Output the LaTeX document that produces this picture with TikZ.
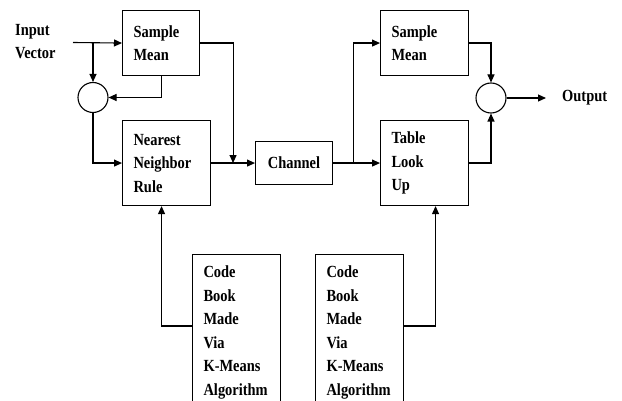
\documentclass[tikz,border=0pt]{standalone}
\usepackage{fontspec}
\setmainfont{Liberation Serif}[FakeStretch=0.85]
\usetikzlibrary{arrows.meta,calc,positioning}

\begin{document}
\begin{tikzpicture}[x=1pt,y=-1pt,
    every node/.style={font=\fontsize{17}{23.5}\selectfont\bfseries},
    blk/.style={draw, line width=1.1pt, anchor=north west, align=left, inner xsep=11pt},
    sumnode/.style={draw, circle, line width=1.1pt, minimum size=30pt, inner sep=0pt},
    arr/.style={line width=1.1pt, -{Triangle[length=8pt,width=7pt]}}]

\useasboundingbox (0,0) rectangle (622,401);
\clip (0,0) rectangle (622,401);

% Encoder side
\node[anchor=north west, align=left, inner sep=0pt] (inp) at (15,24) {Input\\Vector};
\node[blk, text width=55pt, minimum height=65pt] (smean1) at (122,10) {Sample\\Mean};
\node[blk, text width=66pt, minimum height=85pt] (nnrule) at (122,120) {Nearest\\Neighbor\\Rule};
\node[sumnode] (sum1) at (93,97.5) {};

% Channel
\node[blk, text width=55pt, minimum height=43pt, align=center] (chan) at (255,141) {Channel};

% Decoder side
\node[blk, text width=66pt, minimum height=65pt] (smean2) at (380,10) {Sample\\Mean};
\node[blk, text width=66pt, minimum height=85pt] (lookup) at (380,120) {Table\\Look\\Up};
\node[sumnode] (sum2) at (491,98) {};
\node[anchor=west, inner xsep=16pt] (outp) at (546,98) {Output};

% Code books (cut off at the bottom)
\node[blk, text width=66pt, inner ysep=4pt, text height=19pt, text depth=150pt] (cbook1) at (192,254)
    {Code\\Book\\Made\\Via\\K-Means\\Algorithm};
\node[blk, text width=66pt, inner ysep=4pt, text height=19pt, text depth=150pt] (cbook2) at (315,254)
    {Code\\Book\\Made\\Via\\K-Means\\Algorithm};

% Junctions
\coordinate (instart) at (73,42.5);
\coordinate (j1) at ($(nnrule.east)!0.5!(chan.west)$);
\coordinate (j2) at ($(chan.east)!0.44!(lookup.west)$);

% Connectors
\draw[arr] (instart) -- (smean1.west);
\draw[arr] (sum1 |- smean1.west) -- (sum1.north);
\draw[arr] (smean1.south) |- (sum1.east);
\draw[arr] (sum1.south) |- (nnrule.west);
\draw[arr] (smean1.east) -| (j1);
\draw[arr] (nnrule.east) -- (chan.west);
\draw[arr] (chan.east) -- (lookup.west);
\draw[arr] (j2) |- (smean2.west);
\draw[arr] (smean2.east) -| (sum2.north);
\draw[arr] (lookup.east) -| (sum2.south);
\draw[arr] (sum2.east) -- (outp.west);
\draw[arr] ([yshift=-72pt]cbook1.north west) -| ([xshift=-5pt]nnrule.south);
\draw[arr] ([yshift=-72pt]cbook2.north east) -| ([xshift=11pt]lookup.south);

\end{tikzpicture}
\end{document}
